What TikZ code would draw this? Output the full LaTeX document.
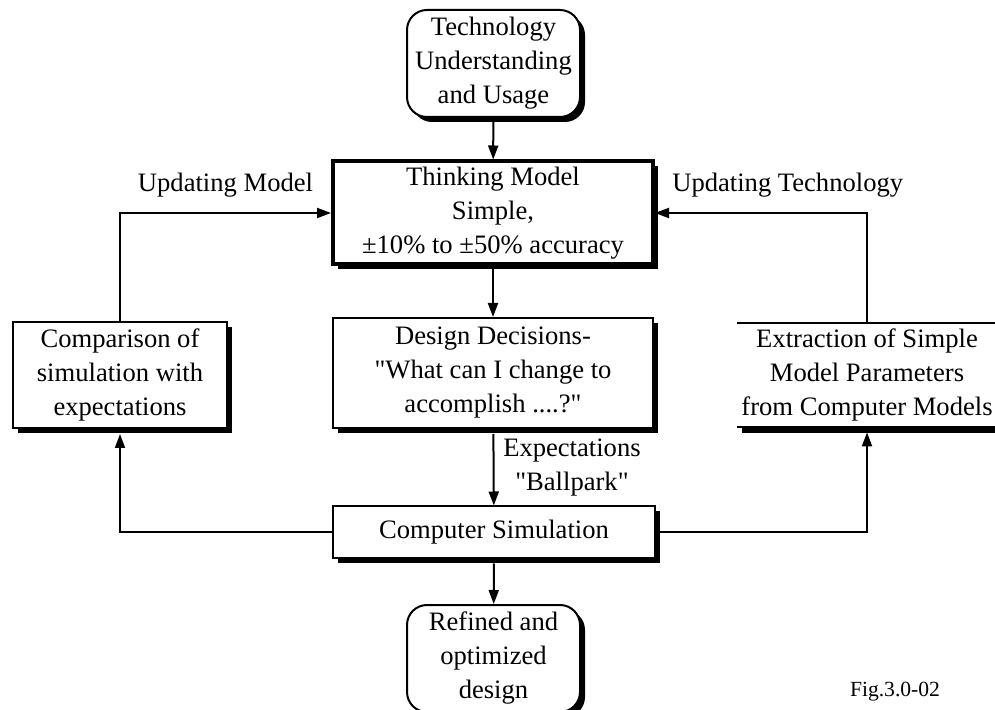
\documentclass[tikz,border=0pt]{standalone}
\usepackage{fontspec}
\setmainfont{Liberation Serif}
\usepackage{tikz}
\usetikzlibrary{shapes,shadows,arrows.meta}

\begin{document}
\begin{tikzpicture}[x=0.5pt,y=-0.5pt,
	font=\fontsize{13.3}{17}\selectfont,
	box/.style={draw,line width=1pt,fill=white,align=center,inner sep=2pt,
		drop shadow={shadow xshift=2.5pt,shadow yshift=-2.5pt,fill=black,opacity=1}},
	roundbox/.style={box,rounded corners=10pt,minimum width=86.5pt,minimum height=53.5pt},
	arr/.style={line width=1pt,-{Triangle[length=7pt,width=5pt]}}]
	\useasboundingbox (0,0) rectangle (995,710);
	\node[roundbox] (tech) at (493.5,63.5) {Technology\\Understanding\\and Usage};
	\node[box,line width=2pt,minimum width=160pt,minimum height=51.5pt] (think) at (493,213)
		{Thinking Model\\Simple,\\±10\% to ±50\% accuracy};
	\node[box,minimum width=160pt,minimum height=55pt] (design) at (493,373)
		{Design Decisions-\\\textquotedbl What can I change to\\accomplish ....?\textquotedbl};
	\node[box,minimum width=107pt,minimum height=53pt] (comp) at (120,375)
		{Comparison of\\simulation with\\expectations};
	\node[align=center,inner sep=2pt,minimum width=127pt,minimum height=52pt] (ext) at (867,375)
		{Extraction of Simple\\Model Parameters\\from Computer Models};
	\node[box,minimum width=161pt,minimum height=25.5pt] (sim) at (494,532) {Computer Simulation};
	\node[roundbox] (refined) at (493.5,658.5) {Refined and\\optimized\\design};
	\node[font=\fontsize{10.8}{13}\selectfont] (fig) at (895,692) {Fig.3.0-02};
	\draw[line width=1pt] (ext.north west) -- (ext.north east);
	\draw[line width=1pt] (ext.south west) -- (ext.south east);
	\draw[line width=2.5pt] ([xshift=2.5pt,yshift=-1.75pt]ext.south west) -- ([xshift=2.5pt,yshift=-1.75pt]ext.south east);
	\draw[arr] (tech) -- (think);
	\draw[arr] (think) -- (design);
	\draw[arr,shorten <=2.5pt] (design) -- node[right=1pt,align=center] {Expectations\\\textquotedbl Ballpark\textquotedbl} (sim);
	\draw[arr,shorten <=2.5pt] (sim) -- (refined);
	\draw[arr] (comp.north) |- node[pos=0.75,above=4pt] {Updating Model} (think.west);
	\draw[arr] (ext.north) |- node[pos=0.687,above=4pt] {Updating Technology} (think.east);
	\draw[arr,shorten >=2.5pt] (sim.west) -| (comp.south);
	\draw[arr,shorten >=2.5pt] (sim.east) -| (ext.south);
\end{tikzpicture}
\end{document}
